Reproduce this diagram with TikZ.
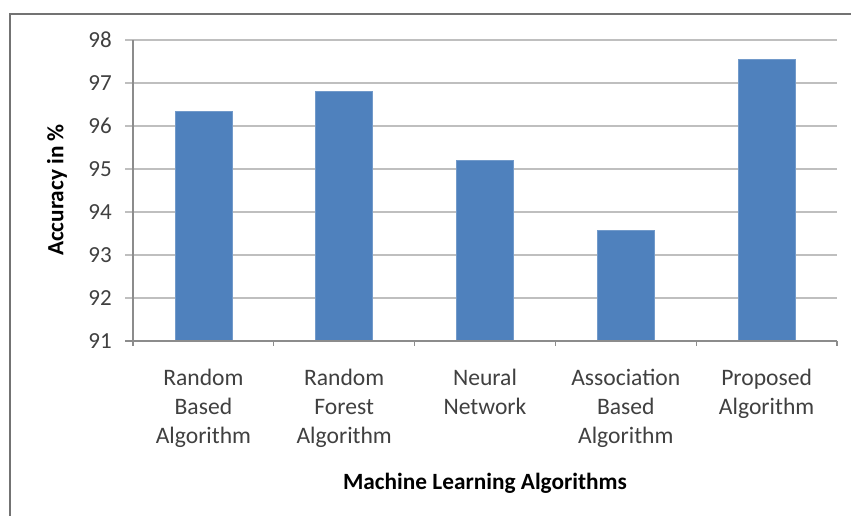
\documentclass[tikz,border=0pt]{standalone}
\usepackage{fontspec}
\setmainfont{Carlito}
\begin{document}
\begin{tikzpicture}[x=1pt,y=-1pt,
  grid/.style={draw=black!25,line width=1.3pt},
  axisline/.style={draw=black!45,line width=1.2pt},
  bar/.style={fill=barblue,draw=barblue!80!white,line width=0.8pt},
  ticklab/.style={anchor=east,font=\fontsize{23}{26}\selectfont,text=black!75,inner sep=0pt},
  catlab/.style={anchor=north,align=center,font=\fontsize{23.6}{28.8}\selectfont,text=black!75,inner sep=0pt},
  axtitle/.style={font=\bfseries\fontsize{23.3}{27}\selectfont,inner sep=0pt}]
\definecolor{barblue}{HTML}{4F81BD}
\useasboundingbox (0,0) rectangle (851,515);
\fill[white] (0,0) rectangle (851,515);
% frame
\draw[draw=black!55,line width=1.6pt] (10,520) -- (10,14) -- (860,14);
% gridlines and tick labels
\foreach \v in {92,...,98}{
  \draw[grid] (125,{341-(\v-91)*43}) -- (837,{341-(\v-91)*43});
}
\foreach \v in {91,...,98}{
  \node[ticklab] (t\v) at (112,{341-(\v-91)*43}) {\v};
}
% bars
\foreach \i/\val in {1/96.33,2/96.8,3/95.2,4/93.58,5/97.56}{
  \pgfmathsetmacro{\cx}{133+(\i-0.5)*140.8}
  \draw[bar] ({\cx-28.5},341) rectangle ({\cx+28.5},{341-(\val-91)*43});
}
% axes
\draw[axisline] (133,40) -- (133,346);
\draw[axisline] (125,341) -- (837,341);
\foreach \i in {1,...,5}{
  \draw[axisline] ({133+\i*140.8},341) -- ({133+\i*140.8},346);
}
% category labels
\node[catlab] (c1) at (203.4,369) {Random\\Based\\Algorithm};
\node[catlab] (c2) at (344.2,369) {Random\\Forest\\Algorithm};
\node[catlab] (c3) at (485,369) {Neural\\Network};
\node[catlab] (c4) at (625.8,369) {Association\\Based\\Algorithm};
\node[catlab] (c5) at (766.6,369) {Proposed\\Algorithm};
% axis titles
\node[axtitle] (xt) at (485,483) {Machine Learning Algorithms};
\node[axtitle,rotate=90] (yt) at (57,190) {Accuracy in \%};
\end{tikzpicture}
\end{document}
